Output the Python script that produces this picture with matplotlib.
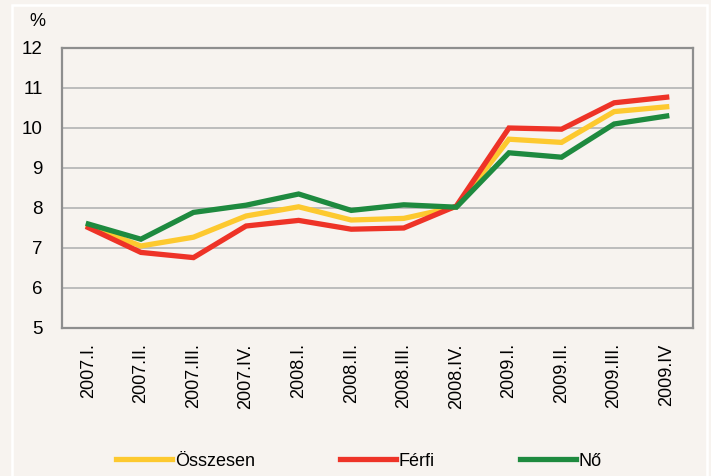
import matplotlib.pyplot as plt
from matplotlib.patches import Rectangle

BG = "#f7f3ef"
quarters = ["2007.I.", "2007.II.", "2007.III.", "2007.IV.", "2008.I.", "2008.II.",
            "2008.III.", "2008.IV.", "2009.I.", "2009.II.", "2009.III.", "2009.IV"]
osszesen = [7.55, 7.05, 7.27, 7.8, 8.03, 7.7, 7.74, 8.03, 9.72, 9.64, 10.41, 10.53]
ferfi = [7.51, 6.89, 6.76, 7.55, 7.69, 7.47, 7.5, 8.05, 10.0, 9.97, 10.63, 10.77]
no = [7.6, 7.22, 7.89, 8.07, 8.35, 7.94, 8.08, 8.02, 9.38, 9.27, 10.1, 10.3]
yticks = [5, 6, 7, 8, 9, 10, 11, 12]

plt.rcParams["font.family"] = ["Liberation Sans Narrow", "Liberation Sans", "DejaVu Sans"]

fig = plt.figure(figsize=(7.11, 4.76), dpi=100, facecolor=BG)
ax = fig.add_axes([62 / 711, 1 - 328 / 476, 631 / 711, 280 / 476], facecolor=BG)

# thin white frame around the panel
fig.patches.append(Rectangle((12 / 711, -0.05), 695 / 711, 1.05 - 5 / 476,
                             transform=fig.transFigure, fill=False,
                             edgecolor="white", linewidth=1.8))

x = range(len(quarters))
ax.plot(x, osszesen, color="#fdc92f", lw=3.8, label="Összesen", solid_joinstyle="miter")
ax.plot(x, ferfi, color="#ee3327", lw=3.8, label="Férfi", solid_joinstyle="miter")
ax.plot(x, no, color="#1e8a3f", lw=3.8, label="Nő", solid_joinstyle="miter")

ax.set_xlim(-0.5, len(quarters) - 0.5)
ax.set_ylim(5, 12)
ax.set_yticks(yticks)
ax.set_xticks(list(x))
ax.set_xticklabels(quarters, rotation=90)
ax.tick_params(axis="y", length=0, pad=14, labelsize=13.5)
ax.tick_params(axis="x", length=0, pad=11, labelsize=13)
ax.grid(axis="y", color="#bcbcbc", lw=1.4)
ax.set_axisbelow(True)
for s in ax.spines.values():
    s.set_color("#8e8e8e")
    s.set_linewidth(1.6)

fig.text(37 / 711, 1 - 22 / 476, "%", ha="center", va="center", fontsize=13)

fig.legend(loc="center", bbox_to_anchor=(359 / 711, 15 / 476), ncol=3, frameon=False,
           fontsize=13, handlelength=3.1, handletextpad=0.15, columnspacing=4.7)

fig.savefig("out.png", dpi=100, facecolor=BG)
